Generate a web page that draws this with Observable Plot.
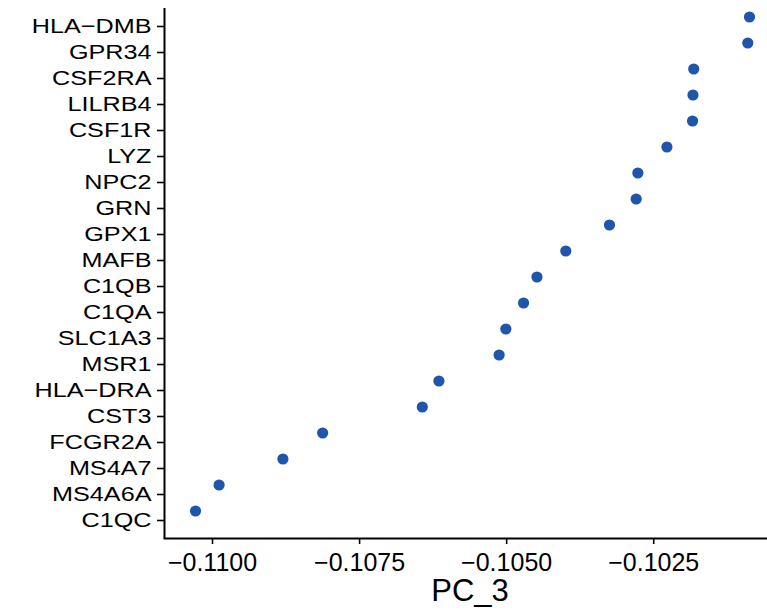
<!DOCTYPE html>
<html>
<head>
<meta charset="utf-8">
<script src="https://cdn.jsdelivr.net/npm/d3@7"></script>
<script src="https://cdn.jsdelivr.net/npm/@observablehq/plot@0.6"></script>
<style>
  html, body { margin: 0; padding: 0; background: #fff; }
  #chart svg { display: block; }
</style>
</head>
<body>
<div id="chart"></div>
<script>
const genes = ["HLA-DMB", "GPR34", "CSF2RA", "LILRB4", "CSF1R", "LYZ", "NPC2", "GRN", "GPX1", "MAFB",
  "C1QB", "C1QA", "SLC1A3", "MSR1", "HLA-DRA", "CST3", "FCGR2A", "MS4A7", "MS4A6A", "C1QC"];
const pc3 = [-0.100872, -0.100901, -0.101820, -0.101833, -0.101840, -0.102276, -0.102770, -0.102798, -0.103252, -0.103995,
  -0.104485, -0.104713, -0.105014, -0.105128, -0.106151, -0.106434, -0.108128, -0.108803, -0.109888, -0.110289];
const xTicks = [-0.1100, -0.1075, -0.1050, -0.1025];
const xDomain = [-0.110816, -0.100566];
const xTitle = ["PC_3"];

const data = genes.map((g, i) => ({gene: g, pc3: pc3[i]}));
const fmt = d => d.toFixed(4).replace("-", "\u2212");

const chart = Plot.plot({
  width: 767,
  height: 614,
  marginLeft: 164,
  marginRight: 0,
  marginTop: 8,
  marginBottom: 76,
  style: {fontFamily: "'Liberation Sans', Arial, sans-serif", color: "#000", background: "#fff"},
  x: {domain: xDomain, ticks: xTicks, tickFormat: fmt, label: null},
  y: {type: "point", domain: genes, padding: 0.62, label: null},
  marks: [
    Plot.axisX({ticks: xTicks, tickFormat: fmt, tickSize: 6, tickPadding: 9, fontSize: 25, stroke: "#000", strokeWidth: 1.6, label: null}),
    Plot.axisY({tickSize: 7, tickPadding: 6, fontSize: 21, stroke: "#000", strokeWidth: 1.6, label: null,
      tickFormat: d => d.replace("-", "\u2212")}),
    Plot.ruleX([xDomain[0]], {stroke: "#000", strokeWidth: 2}),
    Plot.frame({anchor: "bottom", stroke: "#000", strokeWidth: 2}),
    Plot.dot(data, {x: "pc3", y: "gene", r: 5.6, fill: "#1f55ab", stroke: "none", dy: -9.5}),
    Plot.text(xTitle, {frameAnchor: "bottom", dx: 4, dy: 62, fontSize: 31, fill: "#000"})
  ]
});
// the reference's gene labels are drawn horizontally wider than plain Arial:
// stretch each label about its own anchor point
chart.querySelectorAll('g[aria-label="y-axis tick label"] text').forEach(t => {
  let tx = 0, ty = 0;
  const xa = t.getAttribute("x"), ya = t.getAttribute("y");
  if (xa !== null && isFinite(+xa)) { tx = +xa; t.removeAttribute("x"); }
  if (ya !== null && isFinite(+ya)) { ty = +ya; t.removeAttribute("y"); }
  const tr = t.getAttribute("transform") || "";
  t.setAttribute("transform", `${tr} translate(${tx},${ty}) scale(1.2,1)`);
});
document.getElementById("chart").appendChild(chart);
</script>
</body>
</html>
